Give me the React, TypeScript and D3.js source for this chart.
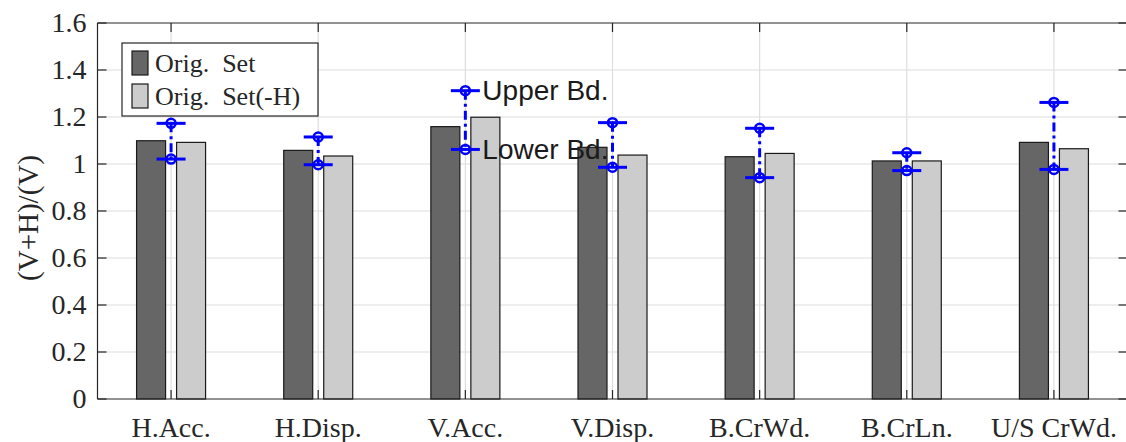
import React, { useEffect, useRef } from "react";
import * as d3 from "d3";

const categories = ["H.Acc.", "H.Disp.", "V.Acc.", "V.Disp.", "B.CrWd.", "B.CrLn.", "U/S CrWd."];
const origSet = [1.099, 1.058, 1.159, 1.071, 1.031, 1.013, 1.092];
const origSetNoH = [1.092, 1.034, 1.199, 1.038, 1.045, 1.013, 1.065];
const upperBd = [1.173, 1.115, 1.312, 1.176, 1.152, 1.048, 1.262];
const lowerBd = [1.021, 0.997, 1.062, 0.986, 0.942, 0.972, 0.977];
const yTicks = [0, 0.2, 0.4, 0.6, 0.8, 1, 1.2, 1.4, 1.6];
const seriesNames = ["Orig. Set", "Orig. Set(-H)"];
const seriesColors = ["#666666", "#cccccc"];

export default function App() {
  const svgRef = useRef<SVGSVGElement | null>(null);

  useEffect(() => {
    if (!svgRef.current) return;
    const root = d3.select(svgRef.current);
    root.selectAll("*").remove();

    const W = 1126;
    const H = 442;
    const left = 97.5;
    const right = 1127.5;
    const top = 23;
    const bottom = 399;
    const serif = "'Liberation Serif', 'DejaVu Serif', serif";
    const sans = "'Liberation Sans', Arial, sans-serif";

    root.attr("width", W).attr("height", H);

    const x = d3.scaleLinear().domain([0.5, categories.length + 0.5]).range([left, right]);
    const y = d3.scaleLinear().domain([0, 1.6]).range([bottom, top]);
    const idx = categories.map((_, i) => i + 1);

    // grid
    const grid = root.append("g").attr("stroke", "#dedede").attr("stroke-width", 1.2);
    grid.selectAll("line.h").data(yTicks.slice(1, -1)).join("line")
      .attr("x1", left).attr("x2", right)
      .attr("y1", (d) => y(d)).attr("y2", (d) => y(d));
    grid.selectAll("line.v").data(idx).join("line")
      .attr("x1", (d) => x(d)).attr("x2", (d) => x(d))
      .attr("y1", top).attr("y2", bottom);

    // bars
    const barW = 29;
    const offset = 20;
    [origSet, origSetNoH].forEach((vals, s) => {
      root.append("g").selectAll("rect").data(vals).join("rect")
        .attr("x", (_, i) => x(i + 1) + (s === 0 ? -offset - barW / 2 : offset - barW / 2))
        .attr("y", (d) => y(d))
        .attr("width", barW)
        .attr("height", (d) => y(0) - y(d))
        .attr("fill", seriesColors[s])
        .attr("stroke", "#1a1a1a")
        .attr("stroke-width", 1.2);
    });

    // axes box
    const ax = root.append("g").attr("stroke", "#262626").attr("stroke-width", 1.2).attr("fill", "none");
    ax.append("line").attr("x1", left).attr("x2", right).attr("y1", bottom).attr("y2", bottom);
    ax.append("line").attr("x1", left).attr("x2", right).attr("y1", top).attr("y2", top);
    ax.append("line").attr("x1", left).attr("x2", left).attr("y1", top).attr("y2", bottom);
    ax.append("line").attr("x1", right).attr("x2", right).attr("y1", top).attr("y2", bottom);
    const tk = 9;
    ax.selectAll("line.yl").data(yTicks).join("line")
      .attr("x1", left).attr("x2", left + tk).attr("y1", (d) => y(d)).attr("y2", (d) => y(d));
    ax.selectAll("line.yr").data(yTicks).join("line")
      .attr("x1", right - tk).attr("x2", right).attr("y1", (d) => y(d)).attr("y2", (d) => y(d));
    ax.selectAll("line.xb").data(idx).join("line")
      .attr("x1", (d) => x(d)).attr("x2", (d) => x(d)).attr("y1", bottom).attr("y2", bottom - tk);
    ax.selectAll("line.xt").data(idx).join("line")
      .attr("x1", (d) => x(d)).attr("x2", (d) => x(d)).attr("y1", top).attr("y2", top + tk);

    // tick labels
    root.append("g").selectAll("text").data(yTicks).join("text")
      .attr("x", left - 11).attr("y", (d) => y(d)).attr("dy", "0.33em")
      .attr("text-anchor", "end").attr("font-family", serif).attr("font-size", 28)
      .attr("fill", "#262626").text((d) => d3.format("~g")(d));
    root.append("g").selectAll("text").data(categories).join("text")
      .attr("x", (_, i) => x(i + 1)).attr("y", 437)
      .attr("text-anchor", "middle").attr("font-family", serif).attr("font-size", 28)
      .attr("fill", "#262626").text((d) => d);

    root.append("text")
      .attr("transform", `translate(28,218) rotate(-90)`).attr("dy", "0.33em")
      .attr("text-anchor", "middle").attr("font-family", serif).attr("font-size", 29)
      .attr("fill", "#262626").text("(V+H)/(V)");

    // bounds
    const eb = root.append("g").attr("stroke", "#0000ff").attr("fill", "none").attr("stroke-width", 3);
    eb.selectAll("line.stem").data(idx).join("line")
      .attr("x1", (d) => x(d)).attr("x2", (d) => x(d))
      .attr("y1", (_, i) => y(upperBd[i])).attr("y2", (_, i) => y(lowerBd[i]))
      .attr("stroke-dasharray", "9,4,3,4");
    [upperBd, lowerBd].forEach((vals) => {
      eb.append("g").selectAll("line").data(vals).join("line")
        .attr("x1", (_, i) => x(i + 1) - 14.5).attr("x2", (_, i) => x(i + 1) + 14.5)
        .attr("y1", (d) => y(d)).attr("y2", (d) => y(d));
      eb.append("g").selectAll("circle").data(vals).join("circle")
        .attr("cx", (_, i) => x(i + 1)).attr("cy", (d) => y(d)).attr("r", 4.5)
        .attr("stroke-width", 2.5);
    });

    // bound labels
    root.append("text").attr("x", x(3) + 17).attr("y", y(upperBd[2])).attr("dy", "0.35em")
      .attr("font-family", sans).attr("font-size", 28).attr("fill", "#1a1a1a").text("Upper Bd.");
    root.append("text").attr("x", x(3) + 17).attr("y", y(lowerBd[2])).attr("dy", "0.35em")
      .attr("font-family", sans).attr("font-size", 28).attr("fill", "#1a1a1a").text("Lower Bd.");

    // legend
    const lg = root.append("g");
    lg.append("rect").attr("x", 122).attr("y", 43).attr("width", 196).attr("height", 73)
      .attr("fill", "#ffffff").attr("stroke", "#262626").attr("stroke-width", 1.2);
    seriesNames.forEach((name, s) => {
      const cy = 63 + s * 33;
      lg.append("rect").attr("x", 132).attr("y", cy - 12).attr("width", 16).attr("height", 24)
        .attr("fill", seriesColors[s]).attr("stroke", "#1a1a1a").attr("stroke-width", 1.2);
      lg.append("text").attr("x", 155).attr("y", cy).attr("dy", "0.33em")
        .attr("font-family", serif).attr("font-size", 26).attr("fill", "#262626")
        .attr("xml:space", "preserve").style("white-space", "pre").text(name.replace(" ", "  "));
    });
  }, []);

  return (
    <div style={{ position: "absolute", left: 0, top: 0 }}>
      <svg ref={svgRef}></svg>
    </div>
  );
}
